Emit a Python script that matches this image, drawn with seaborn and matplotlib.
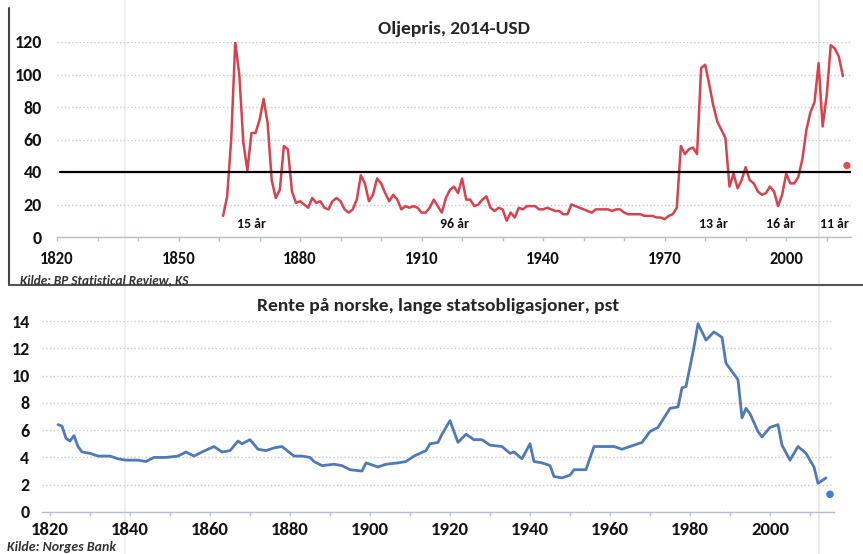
import matplotlib
matplotlib.use("Agg")
import matplotlib.pyplot as plt
import matplotlib.ticker as mticker
from matplotlib.lines import Line2D
import seaborn as sns
import pandas as pd
import numpy as np

# --- Oil price, 2014-USD (BP Statistical Review) ---
oil_years = list(range(1861, 2015))
oil_price = [
    13, 25, 60, 120, 100, 58, 41, 64, 64, 72,          # 1861-1870
    85, 70, 35, 24, 29, 56, 54, 28, 21, 22,            # 1871-1880
    20, 18, 24, 21, 22, 18, 17, 22, 24, 22,            # 1881-1890
    17, 15, 17, 23, 38, 33, 22, 26, 36, 33,            # 1891-1900
    27, 22, 26, 23, 17, 19, 18, 19, 18, 15,            # 1901-1910
    15, 18, 23, 19, 15, 24, 29, 31, 27, 36,            # 1911-1920
    23, 23, 19, 20, 23, 25, 18, 16, 18, 17,            # 1921-1930
    10, 15, 12, 18, 17, 19, 19, 19, 17, 17,            # 1931-1940
    18, 17, 16, 16, 14, 14, 20, 19, 18, 17,            # 1941-1950
    16, 15, 17, 17, 17, 17, 16, 17, 17, 15,            # 1951-1960
    14, 14, 14, 14, 13, 13, 13, 12, 12, 11,            # 1961-1970
    13, 14, 18, 56, 51, 54, 55, 51, 104, 106,          # 1971-1980
    94, 81, 71, 66, 61, 31, 39, 30, 35, 43,            # 1981-1990
    35, 33, 28, 26, 27, 31, 28, 19, 26, 39,            # 1991-2000
    33, 33, 37, 48, 66, 77, 83, 107, 68, 87,           # 2001-2010
    118, 116, 111, 99,                                 # 2011-2014
]
oil_latest_year = [2015]
oil_latest = [44]
oil_ref_level = 40
oil_xticks = [1820, 1850, 1880, 1910, 1940, 1970, 2000]
gap_labels = ["15 år", "96 år", "13 år", "16 år", "11 år"]
gap_label_x = [1868, 1918, 1982, 1998.5, 2012]

# --- Norwegian long government bond yield, pct (Norges Bank) ---
rate_years = [
    1822, 1823, 1824, 1825, 1826, 1827, 1828, 1830, 1832, 1835, 1837, 1839,
    1842, 1844, 1846, 1849, 1852, 1854, 1856, 1858, 1861, 1863, 1865, 1867,
    1868, 1870, 1872, 1874, 1876, 1878, 1881, 1883, 1885, 1886, 1888, 1891,
    1893, 1895, 1898, 1899, 1902, 1904, 1907, 1909, 1911, 1914, 1915, 1917,
    1918, 1920, 1922, 1924, 1926, 1928, 1930, 1933, 1935, 1936, 1938, 1940,
    1941, 1943, 1945, 1946, 1948, 1950, 1951, 1954, 1956, 1958, 1961, 1963,
    1966, 1968, 1970, 1972, 1975, 1977, 1978, 1979, 1981, 1982, 1984, 1986,
    1988, 1989, 1990, 1992, 1993, 1994, 1995, 1997, 1998, 2000, 2002, 2003,
    2005, 2007, 2009, 2011, 2012, 2014,
]
rate_values = [
    6.4, 6.3, 5.4, 5.2, 5.6, 4.8, 4.4, 4.3, 4.1, 4.1, 3.9, 3.8,
    3.8, 3.7, 4.0, 4.0, 4.1, 4.4, 4.1, 4.4, 4.8, 4.4, 4.5, 5.2,
    5.0, 5.3, 4.6, 4.5, 4.7, 4.8, 4.1, 4.1, 4.0, 3.7, 3.4, 3.5,
    3.4, 3.1, 3.0, 3.6, 3.3, 3.5, 3.6, 3.7, 4.1, 4.5, 5.0, 5.1,
    5.7, 6.7, 5.1, 5.7, 5.3, 5.3, 4.9, 4.8, 4.3, 4.4, 3.9, 5.0,
    3.7, 3.6, 3.4, 2.6, 2.5, 2.7, 3.1, 3.1, 4.8, 4.8, 4.8, 4.6,
    4.9, 5.1, 5.9, 6.2, 7.6, 7.7, 9.1, 9.2, 12.1, 13.8, 12.6, 13.2,
    12.8, 10.9, 10.5, 9.7, 6.9, 7.6, 7.2, 5.9, 5.5, 6.2, 6.4, 4.9,
    3.8, 4.8, 4.3, 3.3, 2.1, 2.5,
]
rate_latest_year = [2015]
rate_latest = [1.3]

oil_df = pd.DataFrame({"year": oil_years, "price": oil_price})
rate_df = pd.DataFrame({"year": rate_years, "rate": rate_values})

sns.set_theme(style="white")
plt.rcParams["font.family"] = "Carlito"
plt.rcParams["font.weight"] = "bold"
plt.rcParams["axes.titleweight"] = "bold"

W, H = 863, 554
fig = plt.figure(figsize=(W / 100, H / 100), dpi=100)

red = "#d8424f"
blue = "#4f79b9"
grid_col = "#c9c9c9"
axis_col = "#b9bdc9"
text_col = "#111111"

# top panel
ax1 = fig.add_axes([57 / W, 1 - 237 / H, (851 - 57) / W, (237 - 42) / H])
sns.lineplot(data=oil_df, x="year", y="price", ax=ax1, color=red, lw=1.8)
sns.scatterplot(x=oil_latest_year, y=oil_latest, ax=ax1, color="#d9534f", s=28,
                edgecolor="none", zorder=5)
ax1.axhline(oil_ref_level, xmin=0.004, color="black", lw=1.6, zorder=4)
ax1.set_xlim(1820, 2016)
ax1.set_ylim(0, 120)
ax1.yaxis.set_major_locator(mticker.MultipleLocator(20))
ax1.set_xticks(oil_xticks)
ax1.xaxis.set_minor_locator(mticker.MultipleLocator(10))
for lab, xx in zip(gap_labels, gap_label_x):
    ax1.text(xx, 8, lab, ha="center", va="center", fontsize=10,
             fontweight="bold", color=text_col)
ax1.set_title("Oljepris, 2014-USD", fontsize=14, fontweight="bold", pad=6)

# bottom panel
ax2 = fig.add_axes([42 / W, 1 - 512 / H, (834 - 42) / W, (512 - 321) / H])
sns.lineplot(data=rate_df, x="year", y="rate", ax=ax2, color=blue, lw=2.0)
sns.scatterplot(x=rate_latest_year, y=rate_latest, ax=ax2, color="#3f7fd6", s=30,
                edgecolor="none", zorder=5, clip_on=False)
ax2.set_xlim(1818, 2016)
ax2.set_ylim(0, 14)
ax2.yaxis.set_major_locator(mticker.MultipleLocator(2))
ax2.xaxis.set_major_locator(mticker.MultipleLocator(20))
ax2.xaxis.set_minor_locator(mticker.MultipleLocator(10))
ax2.set_title("Rente på norske, lange statsobligasjoner, pst", fontsize=14,
              fontweight="bold", pad=7)

for ax, xpad, ypad, xsize, ysize in [(ax1, 7, 11, 12, 13), (ax2, 4, 9, 13.5, 13)]:
    ax.set_xlabel("")
    ax.set_ylabel("")
    ax.grid(axis="y", color=grid_col, ls=":", lw=1.0)
    ax.grid(axis="x", visible=False)
    ax.set_axisbelow(True)
    for s in ["top", "right", "left"]:
        ax.spines[s].set_visible(False)
    ax.spines["bottom"].set_color(axis_col)
    ax.spines["bottom"].set_linewidth(1.0)
    ax.tick_params(axis="x", which="both", direction="out", length=3,
                   color=axis_col, width=1, bottom=True)
    ax.tick_params(axis="x", which="major", labelsize=xsize, pad=xpad,
                   labelcolor=text_col)
    ax.tick_params(axis="y", length=0, labelsize=ysize, pad=ypad,
                   labelcolor=text_col)
    ax.patch.set_alpha(0)

# frame of top picture and faint scan lines
fig.add_artist(Line2D([9 / W, 9 / W], [1 - 8 / H, 1 - 285 / H], color="#444444", lw=1.5))
fig.add_artist(Line2D([9 / W, 1], [1 - 285 / H, 1 - 285 / H], color="#555555", lw=1.5))
fig.add_artist(Line2D([125 / W, 125 / W], [0, 1], color="#eeeeee", lw=1.2, zorder=-1))
fig.add_artist(Line2D([819 / W, 819 / W], [0, 1], color="#e6e6e6", lw=1.2, zorder=-1))

fig.text(20 / W, 1 - 284 / H, "Kilde: BP Statistical Review, KS", fontsize=9.5,
         style="italic", fontweight="bold", color="#333333", va="baseline")
fig.text(7 / W, 1 - 551 / H, "Kilde: Norges Bank", fontsize=10, style="italic",
         fontweight="bold", color="#333333", va="baseline")

fig.savefig("out.png", dpi=100)
